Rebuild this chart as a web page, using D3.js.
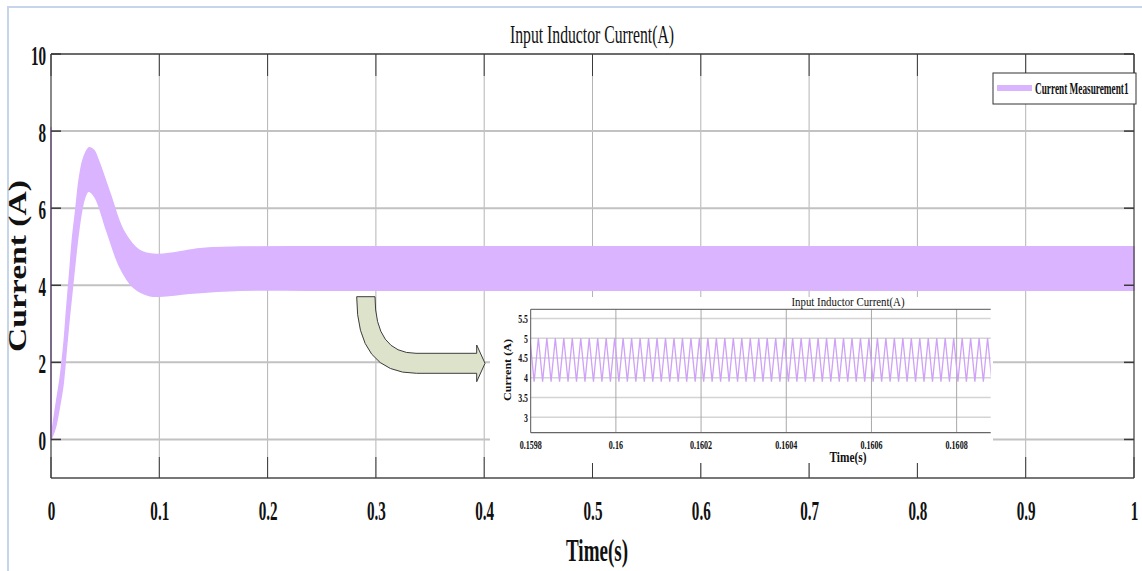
<!DOCTYPE html>
<html><head><meta charset="utf-8">
<script src="https://cdn.jsdelivr.net/npm/d3@7/dist/d3.min.js"></script>
<style>body{margin:0;background:#fff}svg{display:block}</style>
</head><body>
<svg id="chart" width="1142" height="571"></svg>
<script>
// ---------------- data ----------------
const mainTitle = "Input Inductor Current(A)";
const xLabel = "Time(s)";
const yLabel = "Current (A)";
const legendLabel = "Current Measurement1";
const xTicks = [0,0.1,0.2,0.3,0.4,0.5,0.6,0.7,0.8,0.9,1];
const yTicks = [0,2,4,6,8,10];
// envelope of the switching ripple (upper / lower)
const upperT = [0,0.0025,0.0052,0.0085,0.012,0.0145,0.0169,0.0198,0.0228,0.0258,0.029,0.0322,0.0354,0.0395,0.0437,0.0545,0.0668,0.082,0.0976,0.113,0.1376,0.1745,0.25,0.5,0.75,1.0];
const upperV = [0,0.5,1.0,1.6,2.5,3.4,4.2,5.2,5.94,6.7,7.2,7.45,7.57,7.5,7.24,6.38,5.42,4.9,4.8,4.84,4.95,4.99,5.0,5.0,5.0,5.0];
const lowerT = [0,0.004,0.0075,0.011,0.014,0.017,0.0198,0.0222,0.025,0.0283,0.0314,0.0345,0.0406,0.0514,0.0637,0.076,0.0914,0.107,0.128,0.1745,0.25,0.5,0.75,1.0];
const lowerV = [0,0.3,0.8,1.4,2.3,3.2,3.95,4.6,5.3,5.94,6.3,6.44,6.29,5.42,4.47,3.95,3.73,3.73,3.79,3.87,3.87,3.87,3.87,3.87];
const spikeT = [0,0];
const spikeV = [0,8.1];

// inset (zoomed) data
const insetTitle = "Input Inductor Current(A)";
const insetXTicks = [0.1598,0.16,0.1602,0.1604,0.1606,0.1608];
const insetXTickLabels = ["0.1598","0.16","0.1602","0.1604","0.1606","0.1608"];
const insetYTicks = [3,3.5,4,4.5,5,5.5];
const insetYTickLabels = ["3","3.5","4","4.5","5","5.5"];
const insetPeakTimes = [0.1597981,0.159818,0.1598379,0.1598578,0.1598777,0.1598976,0.1599175,0.1599374,0.1599573,0.1599772,0.1599971,0.160017,0.1600369,0.1600568,0.1600767,0.1600966,0.1601165,0.1601364,0.1601563,0.1601762,0.1601961,0.160216,0.1602359,0.1602558,0.1602757,0.1602956,0.1603155,0.1603354,0.1603553,0.1603752,0.1603951,0.160415,0.1604349,0.1604548,0.1604747,0.1604946,0.1605145,0.1605344,0.1605543,0.1605742,0.1605941,0.160614,0.1606339,0.1606538,0.1606737,0.1606936,0.1607135,0.1607334,0.1607533,0.1607732,0.1607931,0.160813,0.1608329,0.1608528,0.1608727,0.1608926];
const insetPeakValue = 5.0;
const insetValleyValue = 3.9;

// ---------------- drawing ----------------
const svg = d3.select("#chart");
const SERIF = "'Liberation Serif','Times New Roman',Times,serif";
const PURPLE = "#dab4ff";

// outer light frame
svg.append("rect").attr("x",8).attr("y",7).attr("width",1200).attr("height",600)
  .attr("fill","#fff").attr("stroke","#c6d6ea").attr("stroke-width",2);

const x = d3.scaleLinear().domain([0,1]).range([51,1134]);
const y = d3.scaleLinear().domain([-1,10]).range([478,54]);

function ctext(g, txt, tx, ty, size, sx, anchor, weight){
  return g.append("text").text(txt)
    .attr("transform",`translate(${tx},${ty}) scale(${sx},1)`)
    .attr("text-anchor",anchor).attr("font-family",SERIF)
    .attr("font-size",size).attr("font-weight",weight||"normal").attr("fill","#111");
}
function ltext(g, txt, tx, ty, size, len, anchor, weight){
  return g.append("text").text(txt).attr("x",tx).attr("y",ty)
    .attr("text-anchor",anchor).attr("font-family",SERIF)
    .attr("font-size",size).attr("font-weight",weight||"normal").attr("fill","#111")
    .attr("textLength",len).attr("lengthAdjust","spacingAndGlyphs");
}

// grid
const grid = svg.append("g");
grid.selectAll("line.v").data(xTicks.slice(1,-1)).join("line")
  .attr("x1",d=>x(d)).attr("x2",d=>x(d)).attr("y1",y(10)).attr("y2",y(-1))
  .attr("stroke","#b4b4b4").attr("stroke-width",1);
grid.selectAll("line.h").data(yTicks.slice(0,-1)).join("line")
  .attr("x1",x(0)).attr("x2",x(1)).attr("y1",d=>y(d)).attr("y2",d=>y(d))
  .attr("stroke","#c2c2c2").attr("stroke-width",2);

// band (smooth envelopes)
const smooth = d3.line().x(d=>x(d[0])).y(d=>y(d[1])).curve(d3.curveCatmullRom.alpha(0.5));
const upPts = upperT.map((t,i)=>[t,upperV[i]]);
const loPts = lowerT.map((t,i)=>[t,lowerV[i]]).reverse();
const bandD = smooth(upPts) + "L" + smooth(loPts).slice(1) + "Z";
svg.append("path").attr("d", bandD).attr("fill",PURPLE).attr("stroke",PURPLE).attr("stroke-width",1.5).attr("stroke-linejoin","round");
svg.append("path").attr("d", d3.line().x(d=>x(d[0])).y(d=>y(d[1]))(spikeT.map((t,i)=>[t,spikeV[i]]))).attr("stroke",PURPLE).attr("stroke-width",2).attr("fill","none");

// frame and ticks
const fr = svg.append("g").attr("stroke","#3a3a3a");
fr.append("line").attr("x1",x(0)).attr("x2",x(1)).attr("y1",y(10)).attr("y2",y(10)).attr("stroke-width",1.5);
fr.append("line").attr("x1",x(0)).attr("x2",x(1)).attr("y1",y(-1)).attr("y2",y(-1)).attr("stroke","#777").attr("stroke-width",2);
fr.append("line").attr("x1",x(0)).attr("x2",x(0)).attr("y1",y(10)).attr("y2",y(-1)).attr("stroke-width",1.2);
fr.append("line").attr("x1",x(1)).attr("x2",x(1)).attr("y1",y(10)).attr("y2",y(-1)).attr("stroke-width",1.2);
fr.selectAll("line.tt").data(xTicks).join("line").attr("x1",d=>x(d)).attr("x2",d=>x(d)).attr("y1",y(10)).attr("y2",y(10)+22).attr("stroke-width",1);
fr.selectAll("line.tb").data(xTicks).join("line").attr("x1",d=>x(d)).attr("x2",d=>x(d)).attr("y1",y(-1)).attr("y2",y(-1)-21).attr("stroke-width",1);
fr.selectAll("line.tl").data(yTicks).join("line").attr("x1",x(0)).attr("x2",x(0)+10).attr("y1",d=>y(d)).attr("y2",d=>y(d)).attr("stroke-width",1.5);
fr.selectAll("line.tr").data(yTicks).join("line").attr("x1",x(1)).attr("x2",x(1)-10).attr("y1",d=>y(d)).attr("y2",d=>y(d)).attr("stroke-width",1.5);

// axis labels via d3 axes
const xAxis = svg.append("g").attr("transform",`translate(0,${y(-1)})`)
  .call(d3.axisBottom(x).tickValues(xTicks).tickSize(0).tickFormat(d=>String(+d.toFixed(1))));
xAxis.select(".domain").remove();
xAxis.selectAll("text").attr("y",null).attr("dy",null)
  .attr("transform","translate(0,42) scale(0.54,1)")
  .attr("font-family",SERIF).attr("font-size",28).attr("font-weight","bold").attr("fill","#111");
const yAxis = svg.append("g").attr("transform",`translate(${x(0)},0)`)
  .call(d3.axisLeft(y).tickValues(yTicks).tickSize(0));
yAxis.select(".domain").remove();
yAxis.selectAll("text").attr("x",null).attr("dy",null)
  .attr("transform","translate(-5,10) scale(0.54,1)")
  .attr("font-family",SERIF).attr("font-size",28).attr("font-weight","bold").attr("fill","#111");

// titles
ltext(svg, mainTitle, 592, 43, 26, 164, "middle");
ltext(svg, xLabel, 597, 561, 31, 62, "middle", "bold");
svg.append("text").text(yLabel).attr("transform","translate(26,266) rotate(-90)")
  .attr("text-anchor","middle").attr("font-family",SERIF).attr("font-size",25).attr("font-weight","bold")
  .attr("textLength",172).attr("lengthAdjust","spacingAndGlyphs").attr("fill","#111");

// legend
const lg = svg.append("g");
lg.append("rect").attr("x",993).attr("y",73).attr("width",143).attr("height",31).attr("fill","#fff").attr("stroke","#333").attr("stroke-width",1);
lg.append("line").attr("x1",997).attr("x2",1032).attr("y1",88).attr("y2",88).attr("stroke",PURPLE).attr("stroke-width",6);
ctext(lg, legendLabel, 1035, 94, 17, 0.545, "start", "bold");

// arrow annotation
svg.append("path")
  .attr("d","M356.7,296.7 L375,296.7 Q375,353.3 416,353.3 L476.7,353.3 L476.7,345 L485,363.3 L476.7,381.7 L476.7,373.3 L416.7,373.3 Q356.7,373.3 356.7,296.7 Z")
  .attr("fill","#dde2cb").attr("stroke","#3c3c3c").attr("stroke-width",1);

// ---------------- inset ----------------
const ins = svg.append("g");
ins.append("rect").attr("x",490).attr("y",297).attr("width",503).attr("height",166).attr("fill","#fff");
const xi = d3.scaleLinear().domain([0.1598,0.16088]).range([530.7,990.7]);
const yi = d3.scaleLinear().domain([2.61,5.73]).range([432.7,309.3]);
ins.selectAll("line.h").data(insetYTicks).join("line")
  .attr("x1",xi(0.1598)).attr("x2",xi(0.16088)).attr("y1",d=>yi(d)).attr("y2",d=>yi(d))
  .attr("stroke","#d4d4d4").attr("stroke-width",1.5);
ins.selectAll("line.v").data(insetXTicks.slice(1)).join("line")
  .attr("x1",d=>xi(d)).attr("x2",d=>xi(d)).attr("y1",yi(5.73)).attr("y2",yi(2.61))
  .attr("stroke","#a8a8a8").attr("stroke-width",1);
ins.append("clipPath").attr("id","ic").append("rect").attr("x",530.7).attr("y",300).attr("width",460).attr("height",140);
const wave = [];
insetPeakTimes.forEach((t,i)=>{
  wave.push([t,insetPeakValue]);
  if(i<insetPeakTimes.length-1) wave.push([(t+insetPeakTimes[i+1])/2, insetValleyValue]);
});
ins.append("path").attr("clip-path","url(#ic)")
  .attr("d", d3.line().x(d=>xi(d[0])).y(d=>yi(d[1]))(wave))
  .attr("fill","none").attr("stroke","#cfa2f7").attr("stroke-width",1.3);
ins.append("line").attr("x1",xi(0.1598)).attr("x2",xi(0.16088)).attr("y1",yi(5.73)).attr("y2",yi(5.73)).attr("stroke","#555").attr("stroke-width",1);
ins.append("line").attr("x1",xi(0.1598)).attr("x2",xi(0.16088)).attr("y1",yi(2.61)).attr("y2",yi(2.61)).attr("stroke","#666").attr("stroke-width",1.2);
ins.append("line").attr("x1",xi(0.1598)).attr("x2",xi(0.1598)).attr("y1",yi(5.73)).attr("y2",yi(2.61)).attr("stroke","#555").attr("stroke-width",1);
insetXTicks.forEach((d,i)=>ctext(ins, insetXTickLabels[i], xi(d), 449, 13, 0.62, "middle","bold"));
insetYTicks.forEach((d,i)=>ctext(ins, insetYTickLabels[i], 528, yi(d)+4.5, 13, 0.6, "end","bold"));
ltext(ins, insetTitle, 848, 306, 13, 113, "middle");
ltext(ins, xLabel, 848, 462, 14, 37, "middle", "bold");
ins.append("text").text(yLabel).attr("transform","translate(511,370) rotate(-90)")
  .attr("text-anchor","middle").attr("font-family",SERIF).attr("font-size",11).attr("font-weight","bold")
  .attr("textLength",62).attr("lengthAdjust","spacingAndGlyphs").attr("fill","#111");
</script>
</body></html>
